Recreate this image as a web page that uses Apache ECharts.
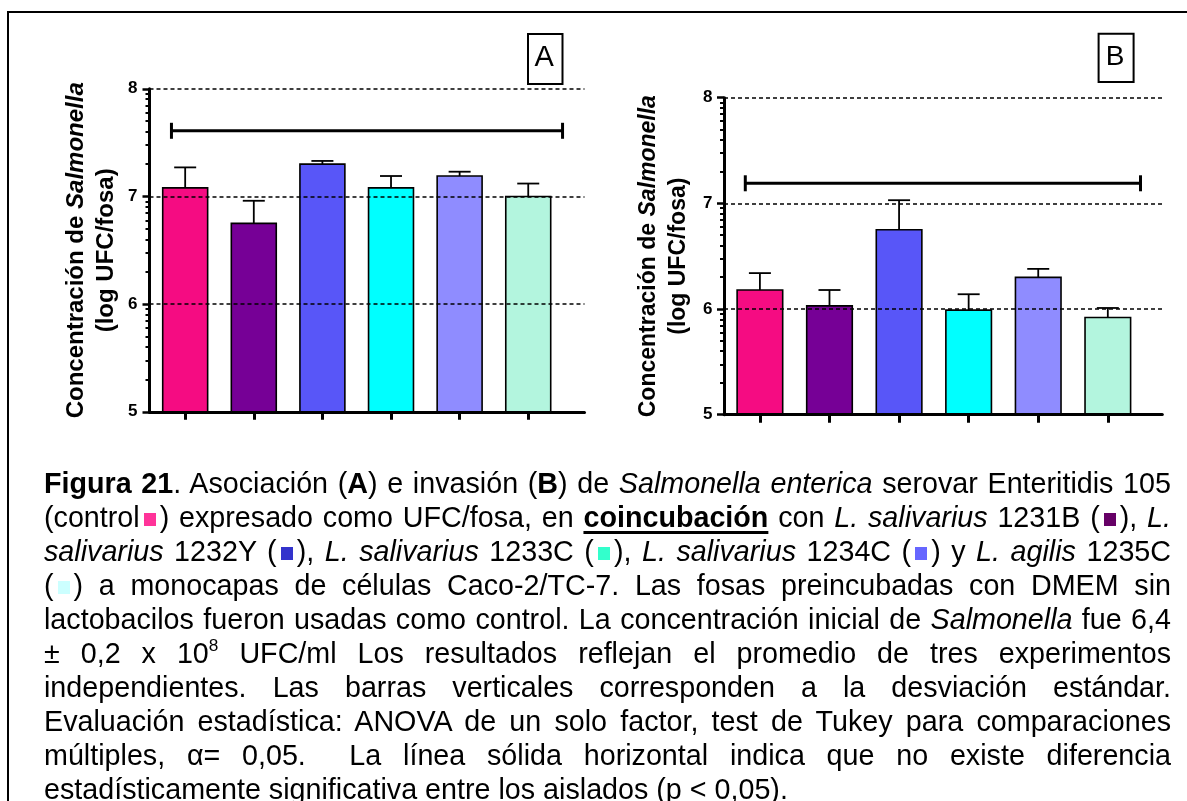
<!DOCTYPE html>
<html lang="es">
<head>
<meta charset="utf-8">
<title>Figura 21</title>
<script src="https://cdn.jsdelivr.net/npm/echarts@6/dist/echarts.min.js"></script>
<style>
  html, body { margin: 0; padding: 0; background: #fff; }
  #page { position: relative; width: 1187px; height: 801px; overflow: hidden; background: #fff; }
  #chart { position: absolute; left: 0; top: 0; width: 1187px; height: 801px; }
  #frame { position: absolute; left: 7px; top: 11px; width: 1200px; height: 820px;
           border-top: 2.5px solid #000; border-left: 2.5px solid #000; pointer-events: none; }
  #caption { position: absolute; left: 44px; top: 466px; width: 1127px;
             font-family: 'Liberation Sans', Arial, Helvetica, sans-serif;
             font-size: 28.7px; line-height: 34px; color: #000; }
  #caption .ln { height: 34px; text-align: justify; text-align-last: justify; }
  #caption .ln.last { text-align-last: left; }
  .sq { display: inline-block; width: 12px; height: 13px; margin: 0 4px; position: relative; top: -1px; }
  u { text-decoration-thickness: 3px; text-underline-offset: 4px; }
  .sup { font-size: 0.6em; position: relative; top: -0.7em; }
</style>
</head>
<body>
<div id="page">
  <div id="chart"></div>
  <div id="frame"></div>
  <div id="caption">
    <div class="ln"><b>Figura 21</b>. Asociación (<b>A</b>) e invasión (<b>B</b>) de <i>Salmonella enterica</i> serovar Enteritidis 105</div>
    <div class="ln">(control<span class="sq" style="background:#FF3399"></span>) expresado como UFC/fosa, en <b><u>coincubación</u></b> con <i>L. salivarius</i> 1231B (<span class="sq" style="background:#660066"></span>), <i>L.</i></div>
    <div class="ln"><i>salivarius</i> 1232Y (<span class="sq" style="background:#3333CC"></span>), <i>L. salivarius</i> 1233C (<span class="sq" style="background:#33FFCC"></span>), <i>L. salivarius</i> 1234C (<span class="sq" style="background:#6666FF"></span>) y <i>L. agilis</i> 1235C</div>
    <div class="ln">(<span class="sq" style="background:#CCFFFF"></span>) a monocapas de células Caco-2/TC-7. Las fosas preincubadas con DMEM sin</div>
    <div class="ln">lactobacilos fueron usadas como control. La concentración inicial de <i>Salmonella</i> fue 6,4</div>
    <div class="ln">± 0,2 x 10<span class="sup">8</span> UFC/ml Los resultados reflejan el promedio de tres experimentos</div>
    <div class="ln">independientes. Las barras verticales corresponden a la desviación estándar.</div>
    <div class="ln">Evaluación estadística: ANOVA de un solo factor, test de Tukey para comparaciones</div>
    <div class="ln">múltiples, α= 0,05.&nbsp; La línea sólida horizontal indica que no existe diferencia</div>
    <div class="ln last">estadísticamente significativa entre los aislados (p &lt; 0,05).</div>
  </div>
</div>
<script>
// Groups: Salmonella alone (control) and co-incubation with each Lactobacillus isolate
const groups = ['Control', '1231B', '1232Y', '1233C', '1234C', '1235C'];
const barColors = ['#F50C82', '#760096', '#5856F8', '#00FFFF', '#8F8CFF', '#B3F5DE'];

// (A) association, log UFC/fosa: mean and standard deviation
const asociacionMean = [7.08, 6.75, 7.30, 7.08, 7.19, 7.00];
const asociacionSD   = [0.19, 0.21, 0.03, 0.11, 0.04, 0.12];

// (B) invasion, log UFC/fosa: mean and standard deviation
const invasionMean = [6.18, 6.03, 6.75, 5.99, 6.30, 5.92];
const invasionSD   = [0.16, 0.15, 0.28, 0.15, 0.08, 0.09];

// Value axis ticks
const yTickValues = [5, 6, 7, 8];
const yTickLabels = ['5', '6', '7', '8'];

// Height of the "no significant difference" bar spanning all groups
const sinDiferenciaA = 7.61;
const sinDiferenciaB = 7.19;

// Logarithmic minor ticks between the decades
const yMinorTicks = [];
for (let n = 5; n < 8; n++) {
  for (let k = 2; k <= 9; k++) yMinorTicks.push(n + Math.log10(k));
}

const FONT = "'Liberation Sans', Arial, Helvetica, sans-serif";
const Y_MIN = yTickValues[0];
const Y_MAX = yTickValues[yTickValues.length - 1];
const BAR_FRAC = 0.655;
const CAP_PX = 22;

const panels = [
  {
    key: 'A', means: asociacionMean, sd: asociacionSD, sig: sinDiferenciaA,
    grid: { left: 149.5, top: 88.8, width: 435, height: 323 },
    xMin: -0.52, xMax: 5.82, sigLeft: 0.2, sigRight: 0.5,
    nameSize: 24, nameGap: 28, labelMargin: 12,
    badge: { x: 527, y: 33, w: 34.5, h: 50, font: 29 }
  },
  {
    key: 'B', means: invasionMean, sd: invasionSD, sig: sinDiferenciaB,
    grid: { left: 724, top: 97.7, width: 438.3, height: 317 },
    xMin: -0.516, xMax: 5.783, sigLeft: 0.21, sigRight: 0.47,
    nameSize: 23, nameGap: 30, labelMargin: 11.5,
    badge: { x: 1097.6, y: 32.7, w: 35, h: 48.3, font: 28 }
  }
];

const grid = [], xAxis = [], yAxis = [], series = [], graphic = [];

panels.forEach((p, pi) => {
  grid.push(Object.assign({ containLabel: false }, p.grid));

  xAxis.push({
    type: 'value', gridIndex: pi, min: p.xMin, max: p.xMax, z: 5,
    axisLine: { show: true, onZero: false, lineStyle: { color: '#000', width: 3 } },
    axisTick: { show: true, customValues: groups.map((g, i) => i), length: 8,
                lineStyle: { color: '#000', width: 3 } },
    axisLabel: { show: false },
    splitLine: { show: false }
  });

  // main value axis: labels, decade ticks, dashed reference lines
  yAxis.push({
    type: 'value', gridIndex: pi, min: Y_MIN, max: Y_MAX, interval: 1, z: 5,
    axisLine: { show: true, onZero: false, lineStyle: { color: '#000', width: 3 } },
    axisTick: { show: true, length: 7, lineStyle: { color: '#000', width: 2.5 } },
    axisLabel: {
      margin: p.labelMargin, color: '#000', fontFamily: FONT, fontWeight: 'bold', fontSize: 17,
      formatter: v => yTickLabels[yTickValues.indexOf(v)]
    },
    splitLine: { show: true, lineStyle: { color: '#000', width: 1.5, type: [4, 3] } },
    name: '{t|Concentración de }{it|Salmonella}\n{t|(log UFC/fosa)}',
    nameLocation: 'middle', nameRotate: 90, nameGap: p.nameGap,
    nameTextStyle: {
      color: '#000', fontFamily: FONT, fontWeight: 'bold', fontSize: p.nameSize, lineHeight: 30, align: 'center',
      rich: {
        t: { color: '#000', fontFamily: FONT, fontWeight: 'bold', fontSize: p.nameSize, lineHeight: 30 },
        it: { color: '#000', fontFamily: FONT, fontWeight: 'bold', fontStyle: 'italic', fontSize: p.nameSize, lineHeight: 30 }
      }
    }
  });

  // companion axis carrying the logarithmic minor ticks
  yAxis.push({
    type: 'value', gridIndex: pi, min: Y_MIN, max: Y_MAX, position: 'left', z: 5,
    axisLine: { show: false, onZero: false },
    axisTick: { show: true, customValues: yMinorTicks, length: 4, lineStyle: { color: '#000', width: 2 } },
    axisLabel: { show: false },
    splitLine: { show: false }
  });

  const xi = pi, yi = pi * 2;

  // bars
  series.push({
    type: 'custom', name: p.key + ' media', xAxisIndex: xi, yAxisIndex: yi, z: 2,
    data: p.means.map((m, i) => [i, m]),
    renderItem: (params, api) => {
      const x = api.value(0), v = api.value(1);
      const top = api.coord([x, v]);
      const base = api.coord([x, Y_MIN]);
      const w = api.size([1, 0])[0] * BAR_FRAC;
      return {
        type: 'rect',
        shape: { x: top[0] - w / 2, y: top[1], width: w, height: base[1] - top[1] },
        style: { fill: barColors[params.dataIndex], stroke: '#000', lineWidth: 1.6 }
      };
    }
  });

  // upper standard deviation whiskers
  series.push({
    type: 'custom', name: p.key + ' DE', xAxisIndex: xi, yAxisIndex: yi, z: 3,
    data: p.means.map((m, i) => [i, m, m + p.sd[i]]),
    renderItem: (params, api) => {
      const x = api.value(0);
      const lo = api.coord([x, api.value(1)]);
      const hi = api.coord([x, api.value(2)]);
      const st = { stroke: '#000', lineWidth: 1.8 };
      return {
        type: 'group',
        children: [
          { type: 'line', shape: { x1: lo[0], y1: lo[1], x2: hi[0], y2: hi[1] }, style: st },
          { type: 'line', shape: { x1: hi[0] - CAP_PX / 2, y1: hi[1], x2: hi[0] + CAP_PX / 2, y2: hi[1] }, style: st }
        ]
      };
    }
  });

  // horizontal bar: no significant difference among the groups
  series.push({
    type: 'custom', name: p.key + ' sin diferencia', xAxisIndex: xi, yAxisIndex: yi, z: 3,
    data: [[0, groups.length - 1, p.sig]],
    renderItem: (params, api) => {
      const a = api.coord([api.value(0) - p.sigLeft, api.value(2)]);
      const b = api.coord([api.value(1) + p.sigRight, api.value(2)]);
      const st = { stroke: '#000', lineWidth: 3 };
      return {
        type: 'group',
        children: [
          { type: 'line', shape: { x1: a[0], y1: a[1], x2: b[0], y2: b[1] }, style: st },
          { type: 'line', shape: { x1: a[0], y1: a[1] - 8, x2: a[0], y2: a[1] + 8 }, style: st },
          { type: 'line', shape: { x1: b[0], y1: b[1] - 8, x2: b[0], y2: b[1] + 8 }, style: st }
        ]
      };
    }
  });

  // panel letter in a box
  const bd = p.badge;
  graphic.push({
    type: 'rect', left: bd.x, top: bd.y, z: 10,
    shape: { width: bd.w, height: bd.h },
    style: { fill: '#fff', stroke: '#000', lineWidth: 2 }
  });
  graphic.push({
    type: 'text', z: 11,
    x: bd.x + bd.w / 2, y: bd.y + bd.h / 2,
    style: { text: p.key, fill: '#000', font: bd.font + 'px ' + FONT, align: 'center', verticalAlign: 'middle' }
  });
});

const chart = echarts.init(document.getElementById('chart'), null, { renderer: 'canvas' });
chart.setOption({
  animation: false,
  backgroundColor: 'transparent',
  grid, xAxis, yAxis, series, graphic
});
</script>
</body>
</html>
